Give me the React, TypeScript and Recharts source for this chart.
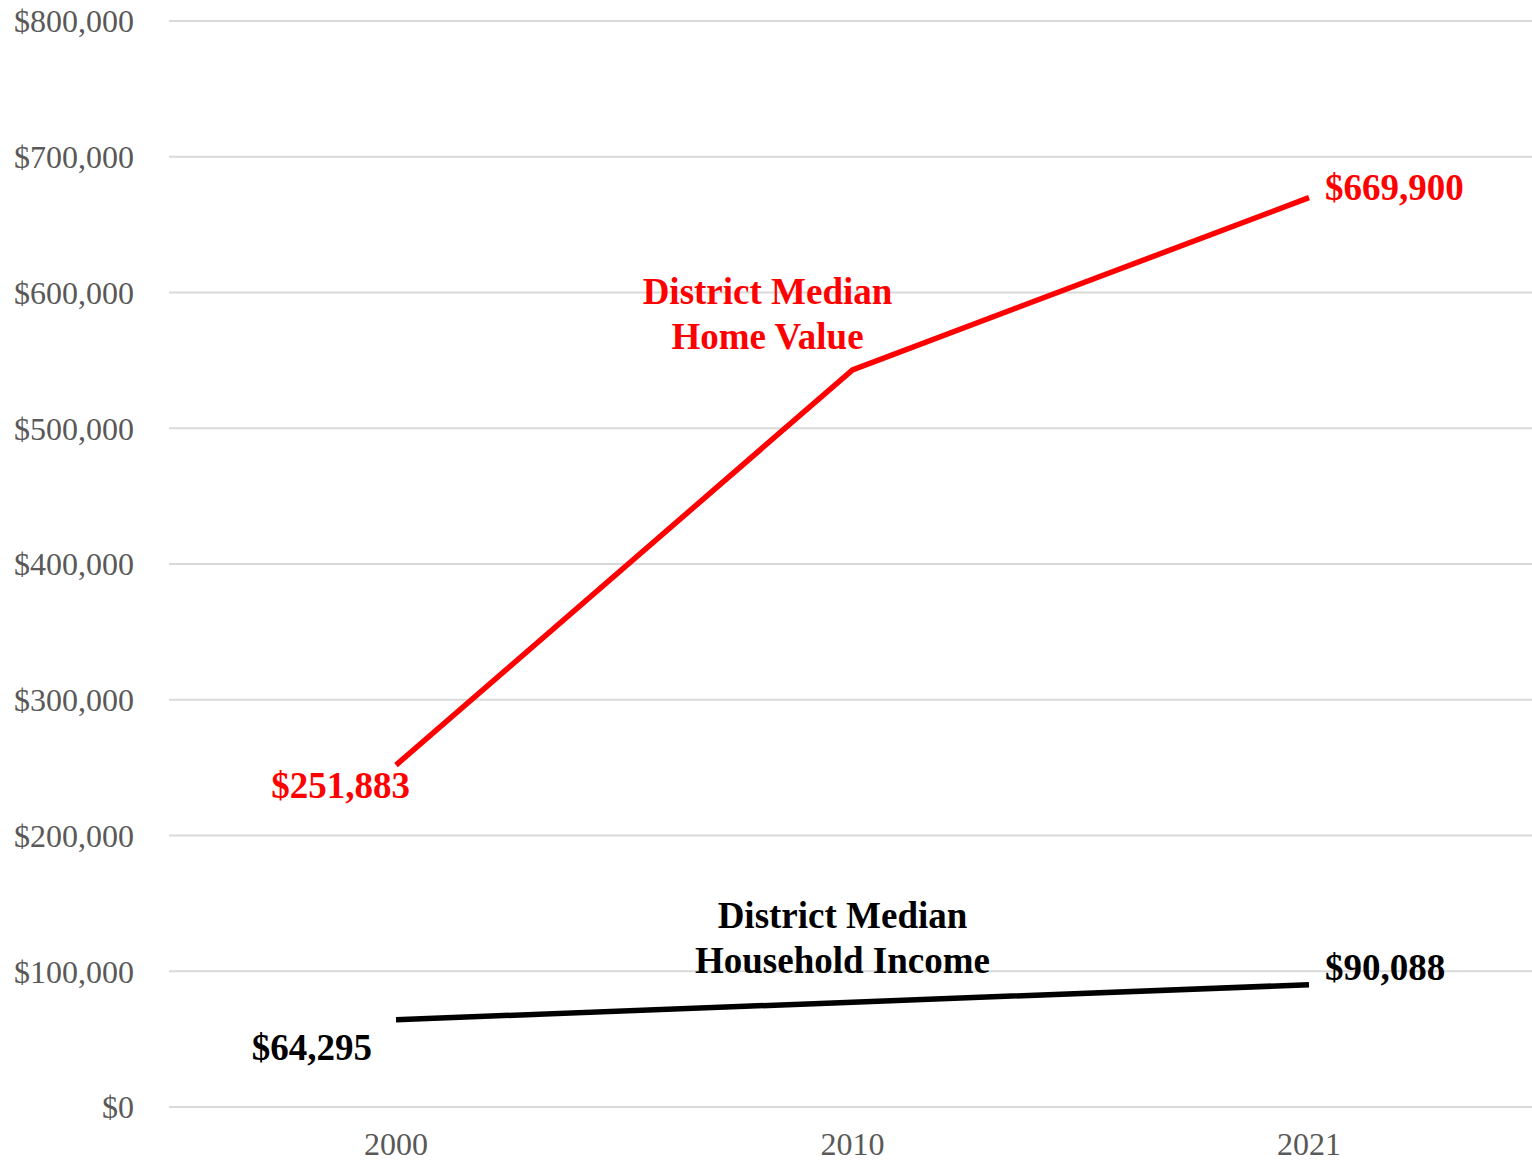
import { LineChart, Line, XAxis, YAxis, CartesianGrid, LabelList } from "recharts";

const YEARS = ["2000", "2010", "2021"];
const HOME_VALUE = [251883, 543000, 669900];
const HOUSEHOLD_INCOME = [64295, 77200, 90088];
const Y_TICKS = [0, 100000, 200000, 300000, 400000, 500000, 600000, 700000, 800000];
const HOME_NAME = ["District Median", "Home Value"];
const INCOME_NAME = ["District Median", "Household Income"];

const RED = "#ff0000";
const BLACK = "#000000";
const FONT = '"Liberation Serif", "Times New Roman", serif';

const data = YEARS.map((year, i) => ({
  year,
  home: HOME_VALUE[i],
  income: HOUSEHOLD_INCOME[i],
}));

function fmtUsd(v: number): string {
  return "$" + v.toLocaleString("en-US");
}

type Offsets = {
  first: [number, number];
  last: [number, number];
  name: [number, number];
};

// value labels at the ends, series name above the middle point
function makeLabel(color: string, nameLines: string[], off: Offsets) {
  return (props: any) => {
    const { x, y, value, index } = props;
    const common = {
      fill: color,
      fontFamily: FONT,
      fontWeight: 700,
      fontSize: 37,
    };
    if (index === 0) {
      return (
        <text x={x + off.first[0]} y={y + off.first[1]} textAnchor="end" {...common}>
          {fmtUsd(value)}
        </text>
      );
    }
    if (index === data.length - 1) {
      return (
        <text x={x + off.last[0]} y={y + off.last[1]} textAnchor="start" {...common}>
          {fmtUsd(value)}
        </text>
      );
    }
    return (
      <text x={x + off.name[0]} y={y + off.name[1]} textAnchor="middle" {...common}>
        {nameLines.map((t, k) => (
          <tspan key={k} x={x + off.name[0]} dy={k === 0 ? 0 : 45}>
            {t}
          </tspan>
        ))}
      </text>
    );
  };
}

export default function App() {
  return (
    <div style={{ width: 1532, height: 1161 }}>
      <style>{`body{margin:0}`}</style>
      <LineChart
        width={1532}
        height={1161}
        data={data}
        margin={{ top: 21, right: 0, left: 0, bottom: 0 }}
      >
        <CartesianGrid vertical={false} stroke="#d9d9d9" strokeWidth={2} />
        <XAxis
          dataKey="year"
          height={54}
          axisLine={false}
          tickLine={false}
          tickMargin={19}
          padding={{ left: 227, right: 223 }}
          tick={{ fill: "#595959", fontSize: 32, fontFamily: FONT }}
        />
        <YAxis
          width={169}
          domain={[0, 800000]}
          ticks={Y_TICKS}
          axisLine={false}
          tickLine={false}
          tickMargin={29}
          tickFormatter={fmtUsd}
          tick={{ fill: "#595959", fontSize: 32, fontFamily: FONT }}
        />
        <Line
          dataKey="home"
          stroke={RED}
          strokeWidth={5.5}
          dot={false}
          isAnimationActive={false}
        >
          <LabelList
            dataKey="home"
            content={makeLabel(RED, HOME_NAME, {
              first: [14, 33],
              last: [16, 2],
              name: [-85, -66],
            })}
          />
        </Line>
        <Line
          dataKey="income"
          stroke={BLACK}
          strokeWidth={5.5}
          dot={false}
          isAnimationActive={false}
        >
          <LabelList
            dataKey="income"
            content={makeLabel(BLACK, INCOME_NAME, {
              first: [-24, 40],
              last: [16, -5],
              name: [-10, -74],
            })}
          />
        </Line>
      </LineChart>
    </div>
  );
}
